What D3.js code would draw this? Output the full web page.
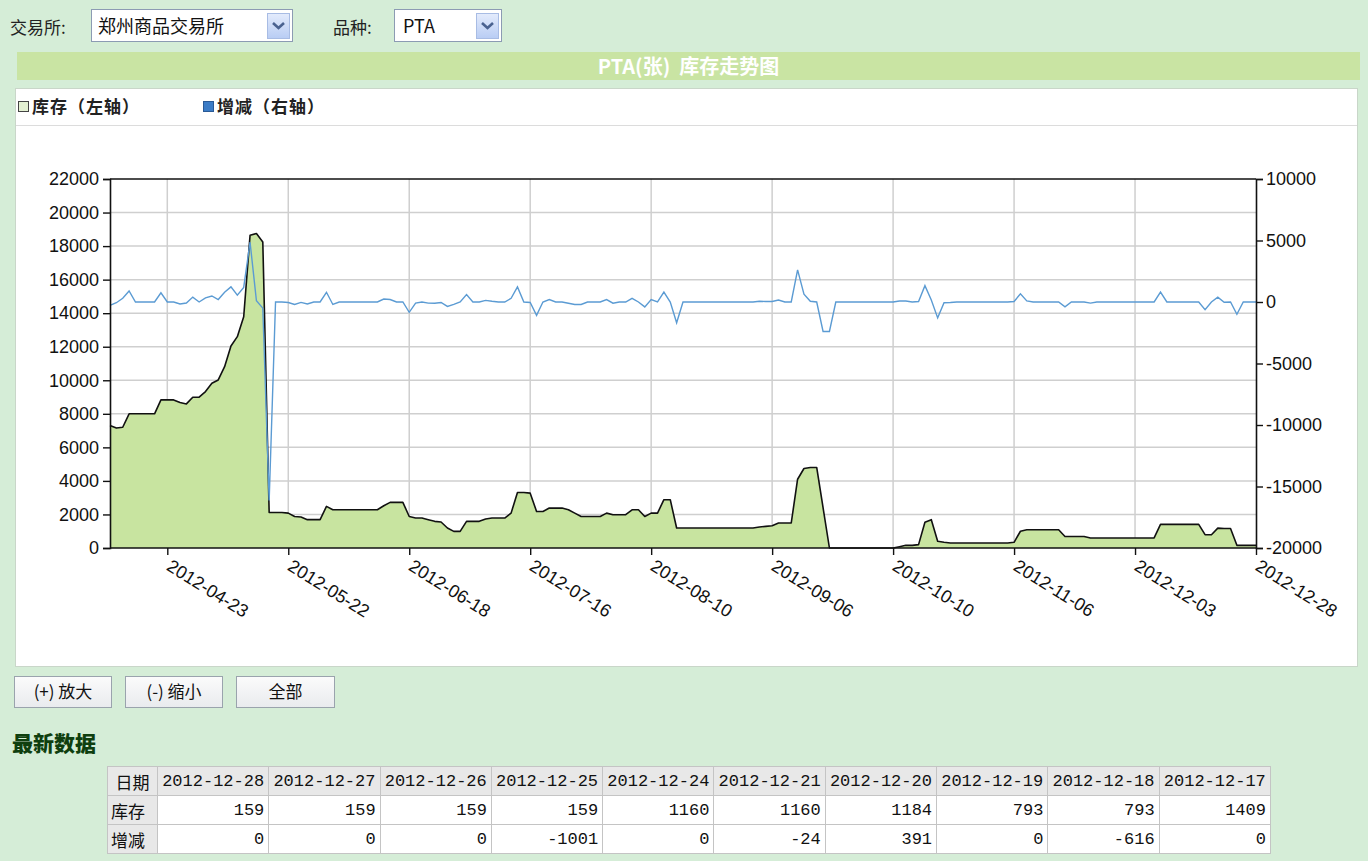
<!DOCTYPE html>
<html>
<head>
<meta charset="utf-8">
<script src="https://cdn.jsdelivr.net/npm/d3@7"></script>
<style>
body { margin: 0; background: #d5edd7; font-family: "Noto Sans CJK SC", sans-serif; }
#page { position: relative; width: 1368px; height: 861px; overflow: hidden; }
.lbl { position: absolute; font-size: 17px; color: #222; line-height: 20px; }
.sel { position: absolute; background: #fff; border: 1px solid #8c9bb3; box-sizing: border-box; }
.sel span { position: absolute; left: 6px; top: 3px; font-size: 18px; line-height: 24px; color: #111; }
.sel .arrow { position: absolute; right: 2px; top: 3px; width: 23px; height: 26px; box-sizing: border-box;
  background: linear-gradient(#e3ebfc, #b9cdf4); border: 1px solid #a8bce4; }
#titlebar { position: absolute; left: 17px; top: 52px; width: 1343px; height: 28px; background: #c9e4a3;
  color: #fff; font-weight: bold; font-size: 20px; text-align: center; line-height: 28px; }
#panel { position: absolute; left: 15px; top: 88px; width: 1343px; height: 579px; background: #fff;
  border: 1px solid #c9d6c9; box-sizing: border-box; }
#legend { position: absolute; left: 0; top: 0; width: 100%; height: 36px; border-bottom: 1px solid #dcdcdc; }
.leg { position: absolute; top: 7px; font-size: 17px; font-weight: bold; color: #222; line-height: 20px; letter-spacing: 1px; }
.leg i { display: inline-block; width: 9px; height: 9px; border: 1px solid #444; margin-right: 3px; vertical-align: 1px; }
#chart { position: absolute; left: 15px; top: 125px; }
.btn { position: absolute; top: 676px; height: 32px; box-sizing: border-box; border: 1px solid #9aa3ad;
  background: linear-gradient(#fbfbfb, #e9ebee); font-size: 17px; line-height: 28px; text-align: center; color: #111; }
#latest { position: absolute; left: 12px; top: 727px; font-size: 21px; font-weight: 900; color: #0f3f0f; }
#tbl { position: absolute; left: 107px; top: 766px; border-collapse: collapse; table-layout: fixed;
  border: 1px solid #9a9a9a; font-family: "Liberation Mono", monospace; font-size: 17px; }
#tbl td { border: 1px solid #c4c4c4; height: 28px; padding: 0 4px; text-align: right; background: #fff; color: #111; }
#tbl tr.head td, #tbl td.first { background: #e8e8e8; }
#tbl tr.head td { text-align: center; padding: 0 1px; }
#tbl td.first { text-align: left; font-family: "Noto Sans CJK SC", sans-serif; padding: 0 3px; }
#chart text { font-family: "Liberation Sans", Arial, sans-serif; font-size: 18px; fill: #111; }
</style>
</head>
<body>
<div id="page">
  <div class="lbl" style="left:10px;top:17px;">交易所:</div>
  <div class="sel" style="left:91px;top:9px;width:202px;height:33px;">
    <span>郑州商品交易所</span>
    <div class="arrow"><svg width="21" height="24"><path d="M5 9 L10.5 14 L16 9" fill="none" stroke="#4a6290" stroke-width="2.6"/></svg></div>
  </div>
  <div class="lbl" style="left:333px;top:17px;">品种:</div>
  <div class="sel" style="left:394px;top:9px;width:108px;height:33px;">
    <span style="left:8px;">PTA</span>
    <div class="arrow"><svg width="21" height="24"><path d="M5 9 L10.5 14 L16 9" fill="none" stroke="#4a6290" stroke-width="2.6"/></svg></div>
  </div>
  <div id="titlebar">PTA(张)&nbsp;&nbsp;库存走势图</div>
  <div id="panel">
    <div id="legend">
      <div class="leg" style="left:2px;"><i style="background:#e4f1d2;"></i>库存（左轴）</div>
      <div class="leg" style="left:187px;"><i style="background:#3b7cc6;border-color:#2a5a96;"></i>增减（右轴）</div>
    </div>
  </div>
  <div id="chart"></div>
  <div class="btn" style="left:14px;width:98px;">(+) 放大</div>
  <div class="btn" style="left:125px;width:98px;">(-) 缩小</div>
  <div class="btn" style="left:236px;width:99px;">全部</div>
  <div id="latest">最新数据</div>
  <table id="tbl"></table>
</div>
<script>
// trading days shown on the x axis
var dates = [
  "2012-04-10","2012-04-11","2012-04-12","2012-04-13","2012-04-16","2012-04-17","2012-04-18","2012-04-19","2012-04-20",
  "2012-04-23","2012-04-24","2012-04-25","2012-04-26","2012-04-27",
  "2012-05-02","2012-05-03","2012-05-04","2012-05-07","2012-05-08","2012-05-09","2012-05-10","2012-05-11",
  "2012-05-14","2012-05-15","2012-05-16","2012-05-17","2012-05-18","2012-05-21","2012-05-22","2012-05-23",
  "2012-05-24","2012-05-25","2012-05-28","2012-05-29","2012-05-30","2012-05-31",
  "2012-06-01","2012-06-04","2012-06-05","2012-06-06","2012-06-07","2012-06-08","2012-06-11","2012-06-12",
  "2012-06-13","2012-06-14","2012-06-15","2012-06-18","2012-06-19","2012-06-20","2012-06-21","2012-06-25",
  "2012-06-26","2012-06-27","2012-06-28","2012-06-29",
  "2012-07-02","2012-07-03","2012-07-04","2012-07-05","2012-07-06","2012-07-09","2012-07-10","2012-07-11",
  "2012-07-12","2012-07-13","2012-07-16","2012-07-17","2012-07-18","2012-07-19","2012-07-20","2012-07-23",
  "2012-07-24","2012-07-25","2012-07-26","2012-07-27","2012-07-30","2012-07-31",
  "2012-08-01","2012-08-02","2012-08-03","2012-08-06","2012-08-07","2012-08-08","2012-08-09","2012-08-10",
  "2012-08-13","2012-08-14","2012-08-15","2012-08-16","2012-08-17","2012-08-20","2012-08-21","2012-08-22",
  "2012-08-23","2012-08-24","2012-08-27","2012-08-28","2012-08-29","2012-08-30","2012-08-31",
  "2012-09-03","2012-09-04","2012-09-05","2012-09-06","2012-09-07","2012-09-10","2012-09-11","2012-09-12",
  "2012-09-13","2012-09-14","2012-09-17","2012-09-18","2012-09-19","2012-09-20","2012-09-21","2012-09-24",
  "2012-09-25","2012-09-26","2012-09-27","2012-09-28",
  "2012-10-08","2012-10-09","2012-10-10","2012-10-11","2012-10-12","2012-10-15","2012-10-16","2012-10-17",
  "2012-10-18","2012-10-19","2012-10-22","2012-10-23","2012-10-24","2012-10-25","2012-10-26","2012-10-29",
  "2012-10-30","2012-10-31",
  "2012-11-01","2012-11-02","2012-11-05","2012-11-06","2012-11-07","2012-11-08","2012-11-09","2012-11-12",
  "2012-11-13","2012-11-14","2012-11-15","2012-11-16","2012-11-19","2012-11-20","2012-11-21","2012-11-22",
  "2012-11-23","2012-11-26","2012-11-27","2012-11-28","2012-11-29","2012-11-30",
  "2012-12-03","2012-12-04","2012-12-05","2012-12-06","2012-12-07","2012-12-10","2012-12-11","2012-12-12",
  "2012-12-13","2012-12-14","2012-12-17","2012-12-18","2012-12-19","2012-12-20","2012-12-21","2012-12-24",
  "2012-12-25","2012-12-26","2012-12-27","2012-12-28"
];

// 库存 (left axis)
var stock = [
  7300, 7150, 7200, 8000, 8000, 8000, 8000, 8000, 8830, 8830,
  8830, 8670, 8590, 8990, 8990, 9325, 9820, 10020, 10810, 12040,
  12600, 13790, 18650, 18750, 18250, 2120, 2120, 2120, 2080, 1880,
  1845, 1690, 1690, 1690, 2480, 2280, 2280, 2280, 2280, 2280,
  2280, 2280, 2280, 2520, 2720, 2720, 2720, 1880, 1785, 1785,
  1690, 1590, 1550, 1190, 990, 990, 1590, 1590, 1590, 1725,
  1785, 1785, 1785, 2080, 3310, 3310, 3270, 2180, 2180, 2380,
  2380, 2380, 2280, 2080, 1880, 1880, 1880, 1880, 2080, 1985,
  1985, 1985, 2280, 2280, 1880, 2080, 2080, 2880, 2880, 1190,
  1190, 1190, 1190, 1190, 1190, 1190, 1190, 1190, 1190, 1190,
  1190, 1190, 1250, 1290, 1330, 1490, 1490, 1490, 4100, 4740,
  4800, 4800, 2400, 0, 0, 0, 0, 0, 0, 0,
  0, 0, 0, 0, 80, 159, 159, 200, 1530, 1690,
  400, 340, 300, 300, 300, 300, 300, 300, 300, 300,
  300, 300, 340, 1000, 1090, 1090, 1090, 1090, 1090, 1090,
  690, 690, 690, 690, 600, 600, 600, 600, 600, 600,
  600, 600, 600, 600, 600, 1409, 1409, 1409, 1409, 1409,
  1409, 1409, 793, 793, 1184, 1160, 1160, 159, 159, 159, 159
];

// 增减 (right axis)
var change = [
  -270, -60, 300, 900, 0, 0, 0, 0, 750, 0,
  0, -160, -80, 400, 0, 340, 490, 200, 790, 1230,
  560, 1190, 4860, 100, -500, -16130, 0, 0, -40, -200,
  -35, -155, 0, 0, 790, -200, 0, 0, 0, 0,
  0, 0, 0, 240, 200, 0, 0, -840, -95, 0,
  -95, -100, -40, -360, -200, 0, 600, 0, 0, 135,
  60, 0, 0, 300, 1230, 0, -40, -1090, 0, 200,
  0, 0, -100, -200, -200, 0, 0, 0, 200, -100,
  0, 0, 300, 0, -400, 200, 0, 800, 0, -1690,
  0, 0, 0, 0, 0, 0, 0, 0, 0, 0,
  0, 0, 60, 40, 40, 160, 0, 0, 2610, 640,
  60, 0, -2400, -2400, 0, 0, 0, 0, 0, 0,
  0, 0, 0, 0, 80, 80, 0, 40, 1330, 160,
  -1290, -60, -40, 0, 0, 0, 0, 0, 0, 0,
  0, 0, 40, 660, 90, 0, 0, 0, 0, 0,
  -400, 0, 0, 0, -90, 0, 0, 0, 0, 0,
  0, 0, 0, 0, 0, 809, 0, 0, 0, 0,
  0, 0, -616, 0, 391, -24, 0, -1001, 0, 0, 0
];

var leftTicks = [0, 2000, 4000, 6000, 8000, 10000, 12000, 14000, 16000, 18000, 20000, 22000];
var rightTicks = [-20000, -15000, -10000, -5000, 0, 5000, 10000];
var tickDates = ["2012-04-23", "2012-05-22", "2012-06-18", "2012-07-16", "2012-08-10",
                 "2012-09-06", "2012-10-10", "2012-11-06", "2012-12-03", "2012-12-28"];

var width = 1343, height = 542;
var margin = {top: 54, right: 102, bottom: 119, left: 95};

var svg = d3.select("#chart").append("svg")
    .attr("width", width)
    .attr("height", height);

var x = d3.scalePoint().domain(dates).range([margin.left, width - margin.right]);
var yL = d3.scaleLinear().domain([0, 22000]).range([height - margin.bottom, margin.top]);
var yR = d3.scaleLinear().domain([-20000, 10000]).range([height - margin.bottom, margin.top]);

// plain hyphen for negatives, like the original
var plain = function(d) { return String(d); };

// grid
svg.append("g").selectAll("line")
    .data(leftTicks.slice(1, -1))
    .enter().append("line")
    .attr("x1", margin.left).attr("x2", width - margin.right)
    .attr("y1", function(d) { return yL(d); })
    .attr("y2", function(d) { return yL(d); })
    .attr("stroke", "#cfcfcf").attr("stroke-width", 1.5);

svg.append("g").selectAll("line")
    .data(tickDates.slice(0, -1))
    .enter().append("line")
    .attr("x1", function(d) { return x(d); })
    .attr("x2", function(d) { return x(d); })
    .attr("y1", margin.top).attr("y2", height - margin.bottom)
    .attr("stroke", "#cfcfcf").attr("stroke-width", 1.5);

// inventory area
var area = d3.area()
    .x(function(d, i) { return x(dates[i]); })
    .y0(yL(0))
    .y1(function(d) { return yL(d); });

svg.append("path")
    .datum(stock)
    .attr("d", area)
    .attr("fill", "#c8e4a0");

svg.append("path")
    .datum(stock)
    .attr("d", d3.line().x(function(d, i) { return x(dates[i]); }).y(function(d) { return yL(d); }))
    .attr("fill", "none")
    .attr("stroke", "#111")
    .attr("stroke-width", 1.6)
    .attr("stroke-linejoin", "round");

// change line
svg.append("path")
    .datum(change)
    .attr("d", d3.line().x(function(d, i) { return x(dates[i]); }).y(function(d) { return yR(d); }))
    .attr("fill", "none")
    .attr("stroke", "#5b9bd3")
    .attr("stroke-width", 1.4);

// top border
svg.append("line")
    .attr("x1", margin.left).attr("x2", width - margin.right)
    .attr("y1", margin.top).attr("y2", margin.top)
    .attr("stroke", "#111").attr("stroke-width", 1.5);

// axes
var gl = svg.append("g")
    .attr("transform", "translate(" + margin.left + ",0)")
    .call(d3.axisLeft(yL).tickValues(leftTicks).tickSize(7).tickPadding(4).tickFormat(plain));

var gr = svg.append("g")
    .attr("transform", "translate(" + (width - margin.right) + ",0)")
    .call(d3.axisRight(yR).tickValues(rightTicks).tickSize(7).tickPadding(3).tickFormat(plain));

var gb = svg.append("g")
    .attr("transform", "translate(0," + (height - margin.bottom) + ")")
    .call(d3.axisBottom(x).tickValues(tickDates).tickSize(7));

gb.selectAll("text")
    .attr("text-anchor", "start")
    .attr("x", 0).attr("y", 0).attr("dy", "0.35em")
    .attr("transform", "translate(1,16) rotate(32)");

[gl, gr, gb].forEach(function(g) {
    g.selectAll("path.domain").attr("stroke", "#111").attr("stroke-width", 1.6);
    g.selectAll(".tick line").attr("stroke", "#111").attr("stroke-width", 1.4);
    g.selectAll("text").attr("fill", "#111").style("font-size", "18px");
});
gb.select("path.domain").attr("d", "M" + margin.left + ",0H" + (width - margin.right));

// latest data table
var last = d3.range(dates.length - 1, dates.length - 11, -1);
var tbl = d3.select("#tbl");
var colw = [50].concat(last.map(function() { return 111.3; }));
tbl.append("colgroup").selectAll("col").data(colw).enter().append("col")
    .style("width", function(d) { return d + "px"; });
var rows = [
    {name: "日期", vals: last.map(function(i) { return dates[i]; }), cls: "head"},
    {name: "库存", vals: last.map(function(i) { return stock[i]; }), cls: ""},
    {name: "增减", vals: last.map(function(i) { return change[i]; }), cls: ""}
];
var tr = tbl.selectAll("tr").data(rows).enter().append("tr").attr("class", function(d) { return d.cls; });
tr.append("td").attr("class", "first").text(function(d) { return d.name; });
tr.selectAll("td.v").data(function(d) { return d.vals; }).enter().append("td").attr("class", "v")
    .text(function(d) { return d; });
</script>
</body>
</html>
